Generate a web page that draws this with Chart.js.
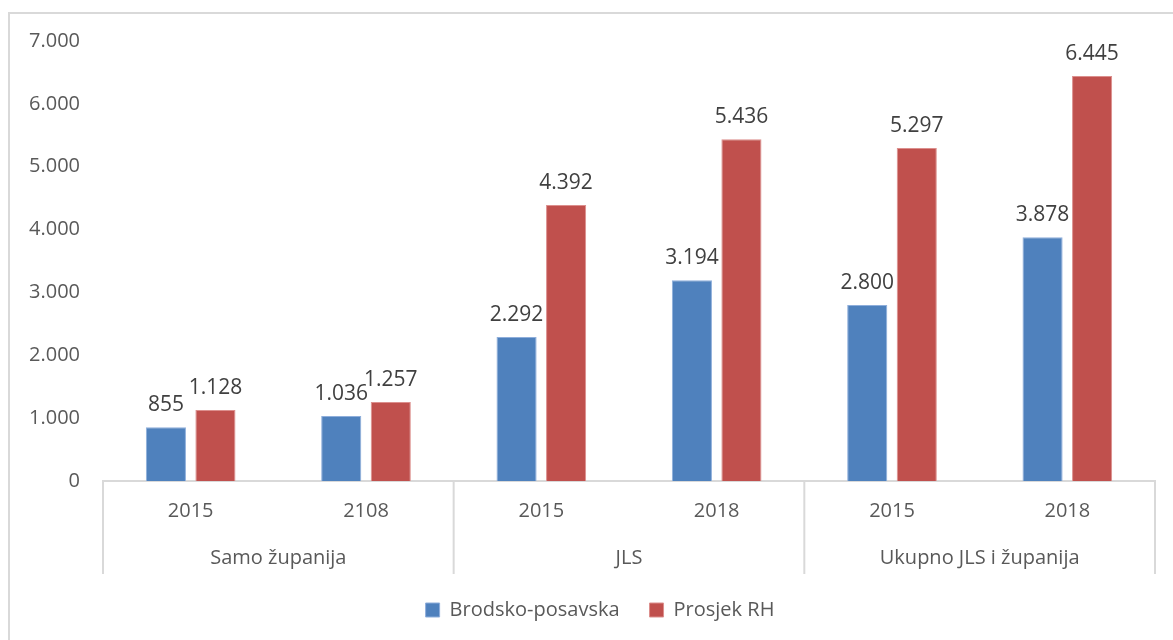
<!DOCTYPE html>
<html lang="hr">
  <head>
    <meta charset="utf-8" />
    <title>Brodsko-posavska vs Prosjek RH</title>
    <style>
      * {
        margin: 0;
        padding: 0;
      }
      body {
        width: 1173px;
        height: 640px;
        overflow: hidden;
        background: #fff;
        position: relative;
      }
      .frame {
        position: absolute;
        left: 8px;
        top: 12px;
        width: 1200px;
        height: 700px;
        border-left: 2px solid #d9d9d9;
        border-top: 2px solid #d9d9d9;
      }
      .chartBox {
        position: absolute;
        left: 0;
        top: 0;
        width: 1173px;
        height: 640px;
      }
    </style>
  </head>
  <body>
    <div class="frame"></div>
    <div class="chartBox">
      <canvas id="myChart"></canvas>
    </div>

    <script src="https://cdn.jsdelivr.net/npm/chart.js@4.4.1/dist/chart.umd.min.js"></script>

    <script>
      // data block
      const years = ["2015", "2108", "2015", "2018", "2015", "2018"];
      const groups = ["Samo županija", "JLS", "Ukupno JLS i županija"];
      const brodskoPosavska = [855, 1036, 2292, 3194, 2800, 3878];
      const prosjekRH = [1128, 1257, 4392, 5436, 5297, 6445];
      const yTicks = [0, 1000, 2000, 3000, 4000, 5000, 6000, 7000];

      const textColor = "#595959";
      const fontFamily = "'Open Sans', 'Noto Sans', sans-serif";

      // 1234 -> "1.234"
      const fmt = (v) => String(v).replace(/\B(?=(\d{3})+(?!\d))/g, ".");

      const data = {
        labels: years,
        datasets: [
          {
            label: "Brodsko-posavska",
            data: brodskoPosavska,
            backgroundColor: "#4f81bd",
            borderColor: "#8eaedb",
            borderWidth: 1,
            categoryPercentage: 0.565,
            barPercentage: 0.81,
          },
          {
            label: "Prosjek RH",
            data: prosjekRH,
            backgroundColor: "#c0504d",
            borderColor: "#dc8f8d",
            borderWidth: 1,
            categoryPercentage: 0.565,
            barPercentage: 0.81,
          },
        ],
      };

      // value labels above the bars
      const barValues = {
        id: "barValues",
        afterDatasetsDraw(chart) {
          const { ctx } = chart;
          ctx.save();
          ctx.font = "21px " + fontFamily;
          ctx.fillStyle = "#404040";
          ctx.textAlign = "center";
          ctx.textBaseline = "alphabetic";
          chart.data.datasets.forEach((ds, i) => {
            chart.getDatasetMeta(i).data.forEach((bar, j) => {
              ctx.fillText(fmt(ds.data[j]), bar.x, bar.y - 16);
            });
          });
          ctx.restore();
        },
      };

      // y tick labels (drawn here so the narrow y box does not clip them)
      const yLabels = {
        id: "yLabels",
        afterDraw(chart) {
          const { ctx, chartArea, scales } = chart;
          ctx.save();
          ctx.font = "20px " + fontFamily;
          ctx.fillStyle = textColor;
          ctx.textAlign = "right";
          ctx.textBaseline = "middle";
          yTicks.forEach((v) => {
            ctx.fillText(fmt(v), chartArea.left - 23, scales.y.getPixelForValue(v));
          });
          ctx.restore();
        },
      };

      // second level of the category axis: group names and separators
      const groupAxis = {
        id: "groupAxis",
        afterDraw(chart) {
          const { ctx, chartArea, scales } = chart;
          const x = scales.x;
          const per = years.length / groups.length;
          const edges = [chartArea.left];
          for (let g = 1; g < groups.length; g++) {
            const a = x.getPixelForValue(g * per - 1);
            const b = x.getPixelForValue(g * per);
            edges.push((a + b) / 2);
          }
          edges.push(chartArea.right);

          ctx.save();
          ctx.strokeStyle = "#d9d9d9";
          ctx.lineWidth = 2;
          edges.forEach((ex) => {
            ctx.beginPath();
            ctx.moveTo(ex, chartArea.bottom);
            ctx.lineTo(ex, chartArea.bottom + 93);
            ctx.stroke();
          });

          ctx.font = "20px " + fontFamily;
          ctx.fillStyle = textColor;
          ctx.textAlign = "center";
          ctx.textBaseline = "middle";
          groups.forEach((name, g) => {
            ctx.fillText(name, (edges[g] + edges[g + 1]) / 2, chartArea.bottom + 77);
          });
          ctx.restore();
        },
      };

      // config block
      const config = {
        type: "bar",
        data: data,
        options: {
          responsive: false,
          animation: false,
          layout: {
            padding: { left: 45, right: 18, top: 41, bottom: 10 },
          },
          scales: {
            x: {
              grid: { display: false, drawTicks: false },
              border: { display: true, color: "#d9d9d9", width: 2 },
              ticks: {
                color: textColor,
                font: { family: fontFamily, size: 20 },
                padding: 18,
              },
              afterFit(scale) {
                scale.height = 89;
              },
            },
            y: {
              min: 0,
              max: 7000,
              afterBuildTicks(scale) {
                scale.ticks = yTicks.map((v) => ({ value: v }));
              },
              grid: { display: false, drawTicks: false },
              border: { display: false },
              ticks: { display: false },
              afterFit(scale) {
                scale.width = 58;
              },
            },
          },
          plugins: {
            legend: {
              position: "bottom",
              labels: {
                color: textColor,
                font: { family: fontFamily, size: 20 },
                boxWidth: 14,
                boxHeight: 14,
                padding: 30,
                useBorderRadius: false,
              },
            },
            tooltip: { enabled: false },
          },
        },
        plugins: [barValues, yLabels, groupAxis],
      };

      // init render block
      const canvas = document.getElementById("myChart");
      canvas.width = 1173;
      canvas.height = 640;
      const myChart = new Chart(canvas, config);
    </script>
  </body>
</html>
